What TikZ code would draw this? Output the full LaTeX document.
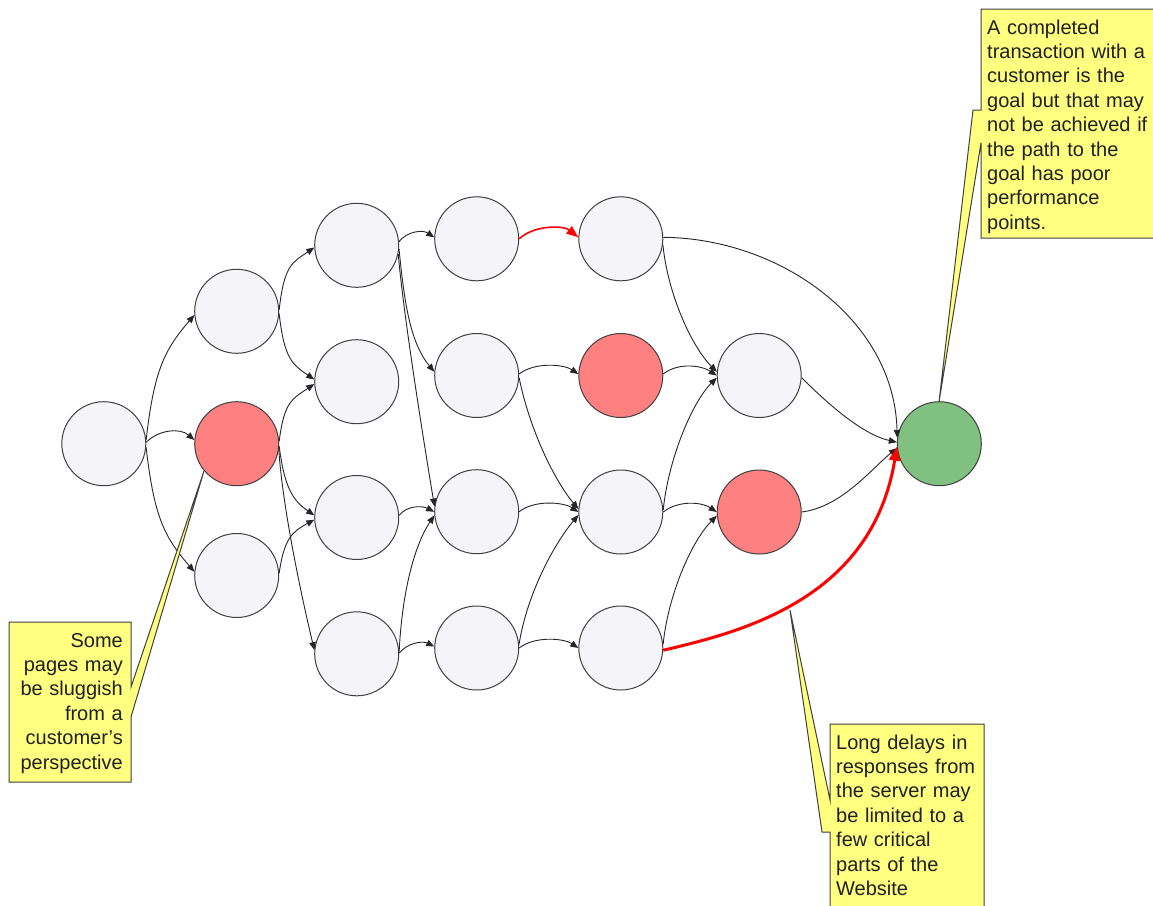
\documentclass[tikz,border=0pt]{standalone}
\usepackage{fontspec}
\setmainfont{Liberation Sans}
\usetikzlibrary{arrows.meta}
\definecolor{pagefill}{HTML}{F4F4F9}
\definecolor{slowfill}{HTML}{FF8080}
\definecolor{goalfill}{HTML}{80C080}
\definecolor{notefill}{HTML}{FFFF80}
\definecolor{outline}{HTML}{404040}
\definecolor{hotpath}{HTML}{FF0000}
\definecolor{notetext}{HTML}{202020}
\tikzset{
  page/.style={circle, draw=outline, line width=1pt, fill=pagefill,
    minimum size=84pt, inner sep=0pt},
  slow/.style={page, fill=slowfill},
  goal/.style={page, fill=goalfill},
  link/.style={draw=black!85, line width=0.9pt,
    -{Triangle[length=8pt,width=6.5pt]}},
  hotlink/.style={draw=hotpath, line width=1.6pt,
    -{Triangle[length=12pt,width=9pt]}},
  hotlinkthick/.style={draw=hotpath, line width=3pt,
    -{Triangle[length=14pt,width=11pt]}},
  callout/.style={draw=outline, line width=1pt, fill=notefill},
  notetxt/.style={inner sep=0pt, text=notetext,
    font=\fontsize{20}{24.4}\selectfont}
}
\begin{document}
\begin{tikzpicture}[x=1pt,y=-1pt]
\clip (0,0) rectangle (1153,905);
\fill[white] (0,0) rectangle (1153,905);

% pages of the site
\node[page] (A)  at (103.8,443.7) {};
\node[page] (B1) at (236.7,311.3) {};
\node[slow] (B2) at (236.7,443.7) {};
\node[page] (B3) at (236.7,575.5) {};
\node[page] (C1) at (356.7,245.3) {};
\node[page] (C2) at (356.7,381.7) {};
\node[page] (C3) at (356.7,517.5) {};
\node[page] (C4) at (356.7,653.8) {};
\node[page] (D1) at (476.7,238.8) {};
\node[page] (D2) at (476.7,375.5) {};
\node[page] (D3) at (476.7,511.7) {};
\node[page] (D4) at (476.7,648.0) {};
\node[page] (E1) at (620.8,238.8) {};
\node[slow] (E2) at (620.8,375.5) {};
\node[page] (E3) at (620.8,512.0) {};
\node[page] (E4) at (620.8,648.0) {};
\node[page] (F1) at (759.2,375.5) {};
\node[slow] (F2) at (759.2,512.0) {};
\node[goal] (G)  at (939.3,443.7) {};

% navigation links
\draw[link] (A.5)  .. controls +(8,-70) and +(-30,35) .. (B1.185);
\draw[link] (A.2)  .. controls +(13,-13) and +(-14,-12) .. (B2.175);
\draw[link] (A.-5) .. controls +(8,70) and +(-30,-35) .. (B3.175);

\draw[link] (B1.2)  .. controls +(5,-45) and +(-22,15) .. (C1.183);
\draw[link] (B1.-3) .. controls +(5,45) and +(-22,-15) .. (C2.177);
\draw[link] (B2.3)  .. controls +(5,-40) and +(-22,15) .. (C2.183);
\draw[link] (B2.-3) .. controls +(5,40) and +(-22,-15) .. (C3.177);
\draw[link] (B2.-8) .. controls +(4,60) and +(-12,-50) .. (C4.175);
\draw[link] (B3.3)  .. controls +(5,-35) and +(-22,12) .. (C3.183);

\draw[link] (C1.5)   .. controls +(8,-10) and +(-12,-8) .. (D1.178);
\draw[link] (C1.-5)  .. controls +(5,50) and +(-25,-30) .. (D2.175);
\draw[link] (C1.-12) .. controls +(5,60) and +(-10,-60) .. (D3.173);
\draw[link] (C3.3)   .. controls +(8,-10) and +(-12,-6) .. (D3.180);
\draw[link] (C4.3)   .. controls +(3,-60) and +(-20,30) .. (D3.185);
\draw[link] (C4.1)   .. controls +(8,-10) and +(-12,-6) .. (D4.178);

\draw[hotlink] (D1.0) .. controls +(15,-14) and +(-15,-12) .. (E1.178);
\draw[link] (D2.2)  .. controls +(15,-12) and +(-15,-10) .. (E2.178);
\draw[link] (D2.-3) .. controls +(10,50) and +(-25,-30) .. (E3.176);
\draw[link] (D3.0)  .. controls +(15,-12) and +(-15,-10) .. (E3.180);
\draw[link] (D4.5)  .. controls +(8,-50) and +(-25,30) .. (E3.184);
\draw[link] (D4.0)  .. controls +(15,-12) and +(-15,-10) .. (E4.180);

\draw[link] (E1.-8) .. controls +(5,50) and +(-25,-25) .. (F1.175);
\draw[link] (E1.2)  .. controls +(117,1) and +(-3,-118) .. (G.172);
\draw[link] (E2.2)  .. controls +(15,-12) and +(-15,-10) .. (F1.180);
\draw[link] (E3.3)  .. controls +(5,-50) and +(-25,25) .. (F1.183);
\draw[link] (E3.0)  .. controls +(15,-12) and +(-15,-10) .. (F2.180);
\draw[link] (E4.5)  .. controls +(5,-50) and +(-25,25) .. (F2.185);

\draw[link] (F1.-3) .. controls +(25,25) and +(-35,-8) .. (G.178);
\draw[link] (F2.0)  .. controls +(40,-5) and +(-25,20) .. (G.186);
\draw[hotlinkthick] (E4.-3) .. controls +(77,-18) and +(-25,153) .. (G.184);

% callouts
\draw[callout] (9,622) -- (131,622) -- (131,687) -- (204,471) -- (131,717)
  -- (131,782) -- (9,782) -- cycle;
\node[notetxt, text width=115pt, align=right, anchor=base east] (noteL)
  at (123,647) {Some\\pages may\\be sluggish\\from a\\customer’s\\perspective};

\draw[callout] (981,9) -- (1160,9) -- (1160,238) -- (981,238) -- (981,143)
  -- (939,402) -- (973,110) -- (981,110) -- cycle;
\node[notetxt, text width=170pt, align=left, anchor=base west] (noteG)
  at (987,34) {A completed\\transaction with a\\customer is the\\goal but that may\\not be achieved if\\the path to the\\goal has poor\\performance\\points.};

\draw[callout] (830,724) -- (984,724) -- (984,912) -- (830,912) -- (830,832)
  -- (822,832) -- (790,610) -- (830,800) -- cycle;
\node[notetxt, text width=150pt, align=left, anchor=base west] (noteS)
  at (836,749) {Long delays in\\responses from\\the server may\\be limited to a\\few critical\\parts of the\\Website};
\end{tikzpicture}
\end{document}
